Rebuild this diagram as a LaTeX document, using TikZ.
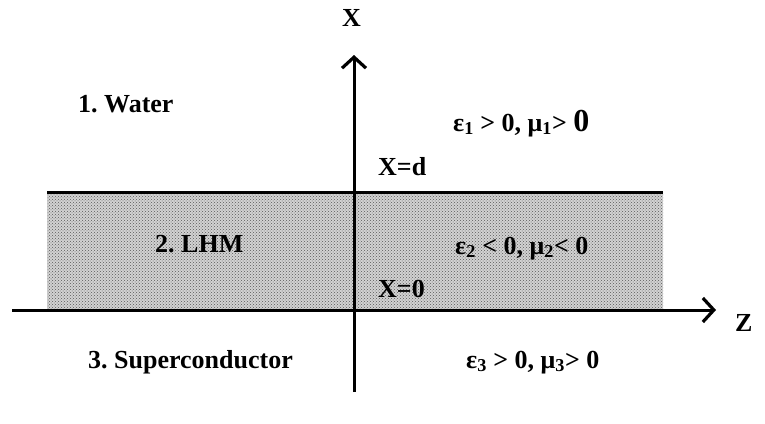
\documentclass[tikz,border=0pt]{standalone}
\usepackage{fontspec}
\setmainfont{Liberation Serif}
\usetikzlibrary{arrows.meta,patterns}
\frenchspacing
\begin{document}
\begin{tikzpicture}[x=1pt,y=-1pt,
  lbl/.style={font=\bfseries\fontsize{26}{30}\selectfont, inner sep=0pt, anchor=base west},
  axis/.style={line width=3pt, -{Straight Barb[length=11pt,width=24pt,line width=3.2pt]}},
  slabline/.style={line width=3pt}]
\useasboundingbox (0,0) rectangle (765,423);
% slab
\path[fill=gray!35] (47,192) rectangle (663,309);
\path[pattern=crosshatch dots, pattern color=black!65] (47,192) rectangle (663,309);
\coordinate (tl) at (47,192);
\coordinate (tr) at (663,192);
\draw[slabline] (tl) -- (tr);
% axes
\coordinate (vb) at (354,392);
\coordinate (vt) at (354,55);
\coordinate (hl) at (12,310);
\coordinate (hr) at (716,310);
\draw[axis] (vb) -- (vt);
\draw[axis] (hl) -- (hr);
% labels
\node[lbl] (xl) at (342,27) {X};
\node[lbl] (zl) at (735,331) {Z};
\node[lbl] (w) at (78,112) {1. Water};
\node[lbl] (e1) at (453,131) {ε\textsubscript{1} > 0, μ\textsubscript{1}> {\fontsize{32}{34}\selectfont 0}};
\node[lbl] (xd) at (378,175) {X=d};
\node[lbl] (lhm) at (155,252) {2. LHM};
\node[lbl] (e2) at (455,254) {ε\textsubscript{2} < 0, μ\textsubscript{2}< 0};
\node[lbl] (x0) at (378,297) {X=0};
\node[lbl] (sc) at (88,368) {3. Superconductor};
\node[lbl] (e3) at (466,368) {ε\textsubscript{3} > 0, μ\textsubscript{3}> 0};
\end{tikzpicture}
\end{document}
